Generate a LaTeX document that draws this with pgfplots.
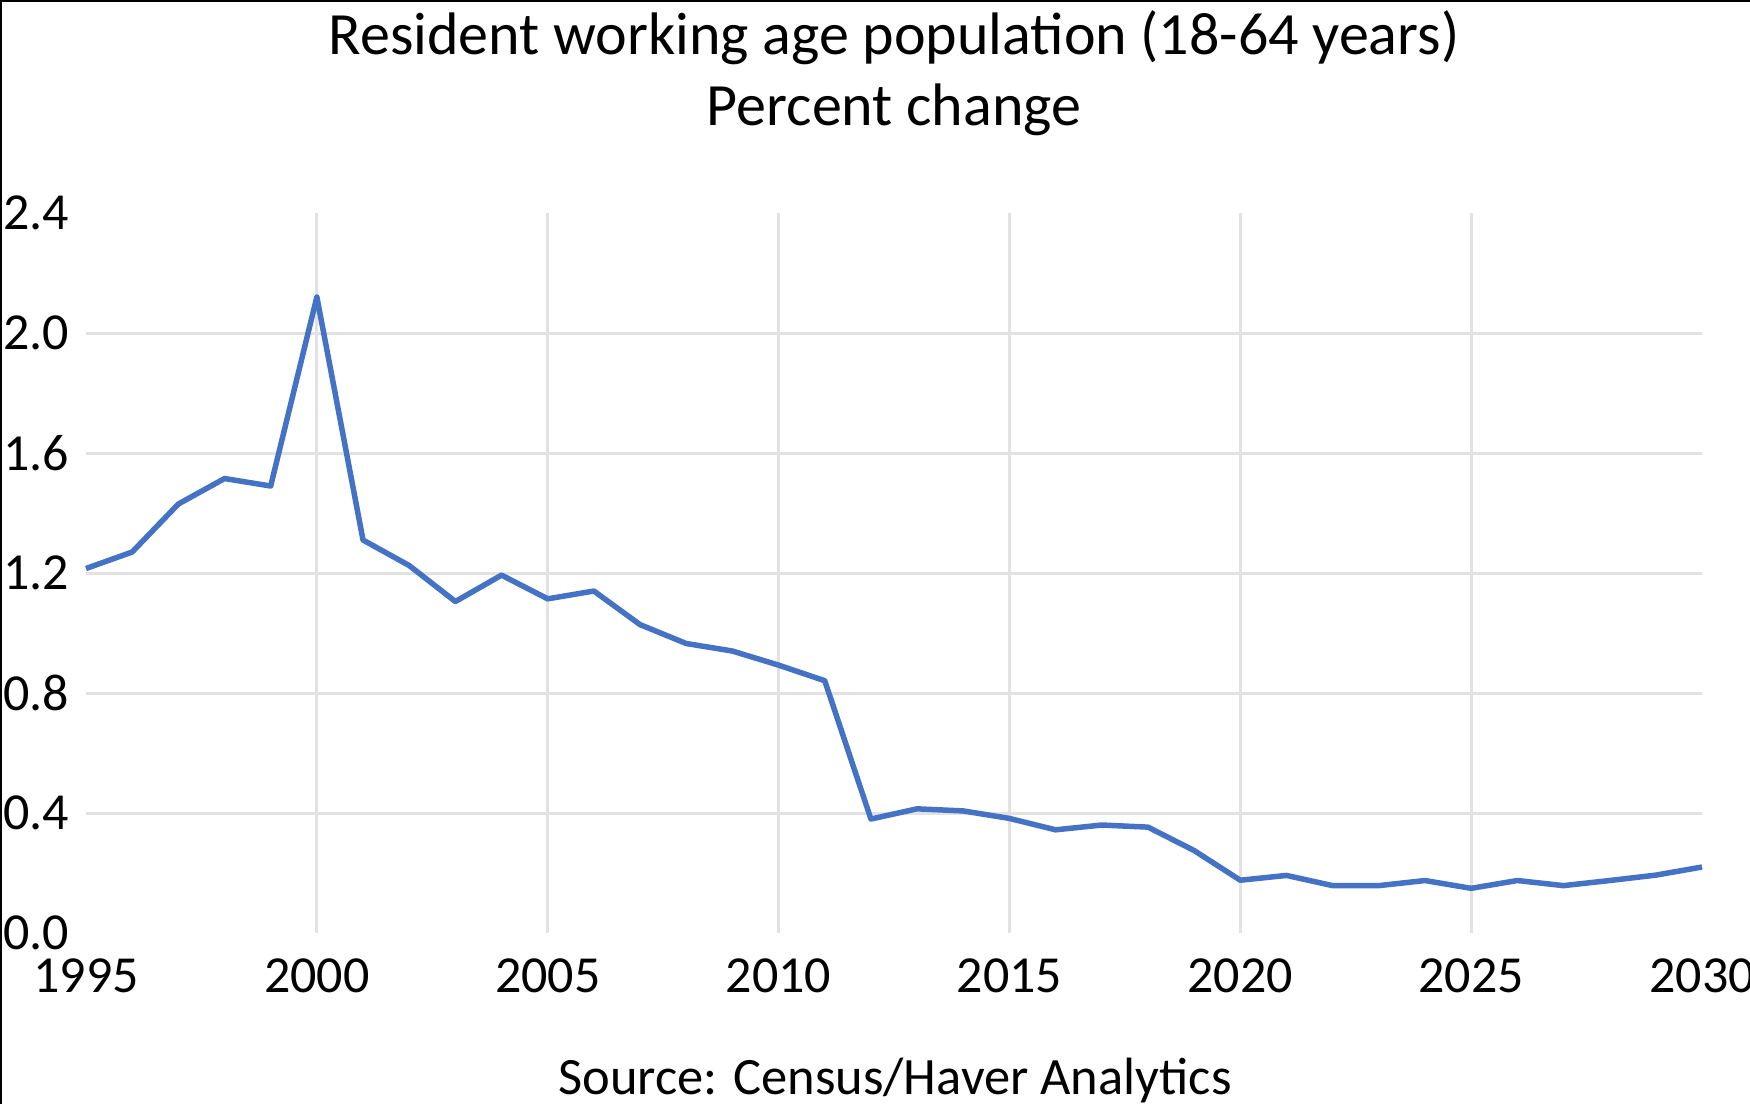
\documentclass[border=0pt]{standalone}
\usepackage{pgfplots}
\pgfplotsset{compat=1.18}
\usepackage{fontspec}
\setmainfont{Carlito}
\definecolor{lineblue}{RGB}{68,114,196}
\definecolor{gridgray}{RGB}{226,226,226}
\begin{document}
\begin{tikzpicture}[x=1pt,y=1pt]
\begin{axis}[
  at={(17.2pt,34.2pt)}, anchor=south west,
  scale only axis, width=323.2pt, height=144pt,
  xmin=1995, xmax=2030, ymin=0, ymax=2.4,
  axis line style={draw=none},
  xtick={2000,2005,...,2025},
  extra x ticks={1995,2030},
  ytick={0.4,0.8,...,2.0},
  extra y ticks={0,2.4},
  extra x tick style={grid=none},
  extra y tick style={grid=none},
  grid=major,
  major grid style={gridgray, line width=0.6pt},
  major tick length=0pt,
  scaled y ticks=false,
  tick label style={font=\fontsize{10.4}{12}\selectfont, /pgf/number format/assume math mode=true},
  xticklabel style={anchor=north, inner sep=0pt, yshift=-5pt, /pgf/number format/1000 sep={}},
  yticklabel style={anchor=west, inner sep=0pt, xshift=-16.8pt, /pgf/number format/.cd, fixed, fixed zerofill, precision=1, assume math mode=true},
  clip=false,
]
\addplot[lineblue, line width=1.1pt, line join=round] coordinates {
(1995,1.215) (1996,1.27) (1997,1.43) (1998,1.515) (1999,1.49)
(2000,2.12) (2001,1.31) (2002,1.225) (2003,1.105) (2004,1.193)
(2005,1.114) (2006,1.14) (2007,1.028) (2008,0.965) (2009,0.94)
(2010,0.893) (2011,0.841) (2012,0.38) (2013,0.414) (2014,0.407)
(2015,0.382) (2016,0.344) (2017,0.36) (2018,0.353) (2019,0.275)
(2020,0.176) (2021,0.192) (2022,0.158) (2023,0.158) (2024,0.175)
(2025,0.149) (2026,0.175) (2027,0.158) (2028,0.175) (2029,0.193)
(2030,0.22)
};
\end{axis}
\node[anchor=base, inner sep=0pt, font=\fontsize{12}{14}\selectfont] at (178.8pt,210pt) {Resident working age population (18-64 years)};
\node[anchor=base, inner sep=0pt, font=\fontsize{12}{14}\selectfont] at (178.8pt,195.8pt) {Percent change};
\node[anchor=base, inner sep=0pt, font=\fontsize{10.5}{12}\selectfont] at (179pt,2pt) {Source: Census/Haver Analytics};
\draw[black, line width=0.8pt] (0,0) -- (0,220.8pt) -- (350pt,220.8pt);
\pgfresetboundingbox
\useasboundingbox (0,0) rectangle (350pt,220.8pt);
\end{tikzpicture}
\end{document}
